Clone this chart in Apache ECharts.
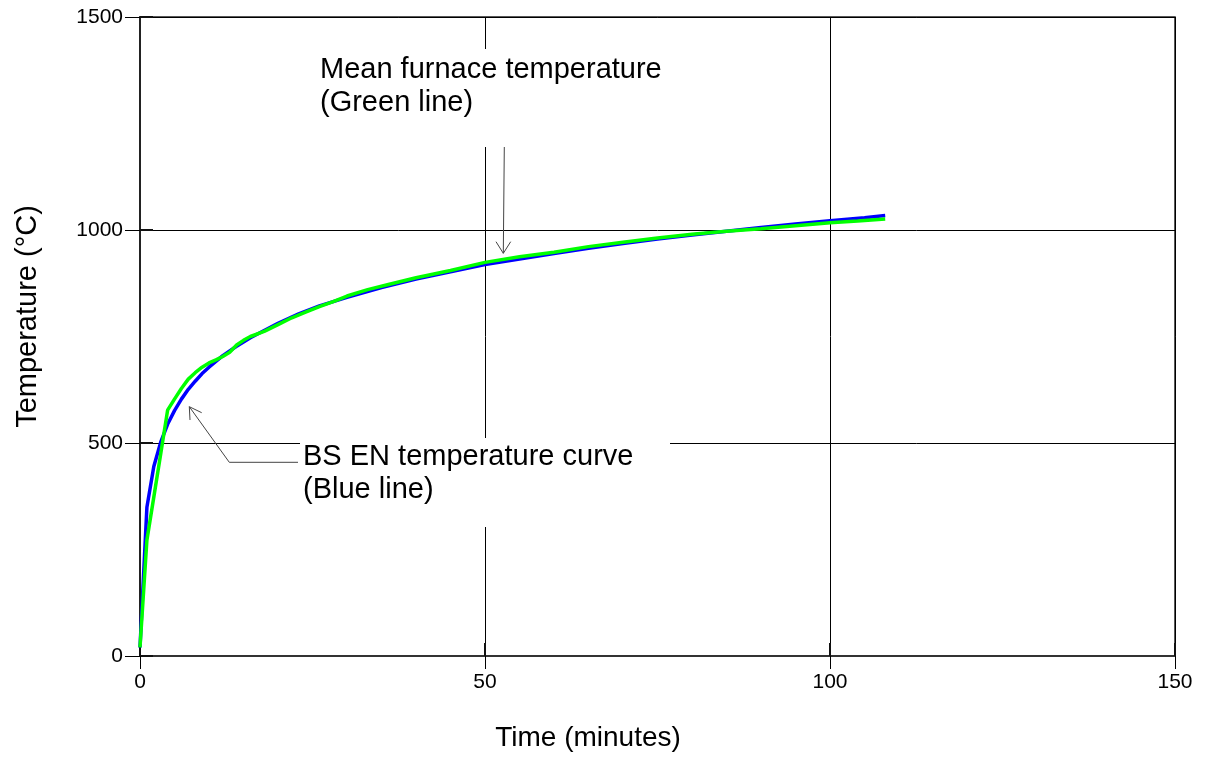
<!DOCTYPE html>
<html>
<head>
<meta charset="utf-8">
<script src="https://cdn.jsdelivr.net/npm/echarts@6/dist/echarts.min.js"></script>
<style>
  html, body { margin: 0; padding: 0; background: #fff; }
  #chart { width: 1206px; height: 758px; }
</style>
</head>
<body>
<div id="chart"></div>
<script>
// ---- Data ----
var blueTime  = [0, 1, 2, 3, 4, 5, 6, 7, 8, 9, 10, 12, 14, 16, 18, 20, 23, 26, 30, 35, 40, 45, 50, 55, 60, 65, 70, 75, 80, 85, 90, 95, 100, 105, 108];
var blueTemp  = [20, 349, 445, 502, 544, 576, 603, 626, 645, 663, 678, 705, 727, 747, 764, 781, 803, 822, 842, 865, 885, 902, 919, 932, 945, 957, 968, 979, 988, 997, 1006, 1014, 1022, 1029, 1034];
var greenTime = [0, 1, 2, 3, 4, 5, 6, 7, 8, 9, 10, 11, 12, 13, 14, 15, 16, 18, 20, 22, 24, 26, 28, 30, 33, 36, 40, 45, 50, 55, 60, 65, 70, 75, 80, 85, 90, 95, 100, 104, 108];
var greenTemp = [20, 272, 373, 474, 577, 603, 628, 650, 665, 678, 688, 695, 703, 713, 730, 741, 750, 762, 778, 794, 807, 820, 832, 845, 860, 872, 888, 905, 924, 937, 948, 961, 971, 981, 990, 997, 1003, 1010, 1017, 1021, 1026];
var xTicks = [0, 50, 100, 150];
var yTicks = [0, 500, 1000, 1500];
var xTitle = 'Time (minutes)';
var yTitle = 'Temperature (°C)';
var noteGreen = ['Mean furnace temperature', '(Green line)'];
var noteBlue  = ['BS EN temperature curve', '(Blue line)'];

function pairs(xs, ys) { return xs.map(function (x, i) { return [x, ys[i]]; }); }

var FONT = '"Liberation Sans", Arial, Helvetica, sans-serif';
var chart = echarts.init(document.getElementById('chart'), null, { renderer: 'canvas' });

function plain(v) { return String(v); }

function valAxisX(main) {
  return {
    type: 'value', min: xTicks[0], max: xTicks[xTicks.length - 1], interval: xTicks[1] - xTicks[0],
    position: 'bottom',
    axisLine: { show: main, onZero: false, lineStyle: { color: '#333', width: 2 } },
    axisTick: main ? { show: true, inside: false, length: 13, lineStyle: { color: '#000', width: 1 } }
                   : { show: true, inside: true, length: 13, lineStyle: { color: '#111', width: 2 } },
    axisLabel: { show: main, margin: 16, color: '#000', fontSize: 21, fontFamily: FONT, formatter: plain },
    splitLine: { show: main, lineStyle: { color: '#000', width: 1 } }
  };
}
function valAxisY(main) {
  return {
    type: 'value', min: yTicks[0], max: yTicks[yTicks.length - 1], interval: yTicks[1] - yTicks[0],
    position: 'left',
    axisLine: { show: main, onZero: false, lineStyle: { color: '#222', width: 2 } },
    axisTick: main ? { show: true, inside: false, length: 15, lineStyle: { color: '#000', width: 1 } }
                   : { show: true, inside: true, length: 13, lineStyle: { color: '#111', width: 2 } },
    axisLabel: { show: main, margin: 17, color: '#000', fontSize: 21, fontFamily: FONT, formatter: plain },
    splitLine: { show: main, lineStyle: { color: '#000', width: 1 } }
  };
}

var lineColor = '#444';
var option = {
  animation: false,
  backgroundColor: '#fff',
  grid: { left: 140, top: 17, right: 31, bottom: 102, show: true, borderColor: '#222', borderWidth: 1.5, backgroundColor: 'transparent' },
  xAxis: [valAxisX(true), valAxisX(false)],
  yAxis: [valAxisY(true), valAxisY(false)],
  series: [
    { type: 'line', name: 'BS EN', xAxisIndex: 0, yAxisIndex: 0, data: pairs(blueTime, blueTemp),
      symbol: 'none', lineStyle: { color: '#0000ff', width: 3.5 }, z: 3 },
    { type: 'line', name: 'Furnace', xAxisIndex: 0, yAxisIndex: 0, data: pairs(greenTime, greenTemp),
      symbol: 'none', lineStyle: { color: '#00ff00', width: 3.5 }, z: 4 }
  ],
  graphic: [
    // white label backgrounds (interrupt gridlines)
    { type: 'rect', z: 50, shape: { x: 310, y: 49, width: 370, height: 98 }, style: { fill: '#fff' } },
    { type: 'rect', z: 50, shape: { x: 300, y: 438, width: 370, height: 89 }, style: { fill: '#fff' } },
    // annotation texts
    { type: 'text', z: 60, x: 320, y: 70, style: { text: noteGreen[0], font: '29px ' + FONT, fill: '#000', textAlign: 'left', textVerticalAlign: 'middle' } },
    { type: 'text', z: 60, x: 320, y: 103.4, style: { text: noteGreen[1], font: '29px ' + FONT, fill: '#000', textAlign: 'left', textVerticalAlign: 'middle' } },
    { type: 'text', z: 60, x: 303, y: 457.3, style: { text: noteBlue[0], font: '29px ' + FONT, fill: '#000', textAlign: 'left', textVerticalAlign: 'middle' } },
    { type: 'text', z: 60, x: 303, y: 490, style: { text: noteBlue[1], font: '29px ' + FONT, fill: '#000', textAlign: 'left', textVerticalAlign: 'middle' } },
    // arrows
    { type: 'polyline', z: 60, shape: { points: [[504.3, 147], [503.3, 253.3]] }, style: { stroke: lineColor, lineWidth: 1, fill: null } },
    { type: 'polyline', z: 60, shape: { points: [[496, 241.7], [503.3, 253.3], [510.7, 241.7]] }, style: { stroke: lineColor, lineWidth: 1, fill: null } },
    { type: 'polyline', z: 60, shape: { points: [[298, 462.3], [229.3, 462.3], [189.3, 406.7]] }, style: { stroke: lineColor, lineWidth: 1, fill: null } },
    { type: 'polyline', z: 60, shape: { points: [[201.7, 412.7], [189.3, 406.7], [190, 420]] }, style: { stroke: lineColor, lineWidth: 1, fill: null } },
    // axis titles
    { type: 'text', z: 60, x: 28, y: 316.5, rotation: Math.PI / 2, style: { text: yTitle, font: '29px ' + FONT, fill: '#000', textAlign: 'center', textVerticalAlign: 'middle' } },
    { type: 'text', z: 60, x: 588, y: 738.5, style: { text: xTitle, font: '28px ' + FONT, fill: '#000', textAlign: 'center', textVerticalAlign: 'middle' } }
  ]
};
chart.setOption(option);
</script>
</body>
</html>
